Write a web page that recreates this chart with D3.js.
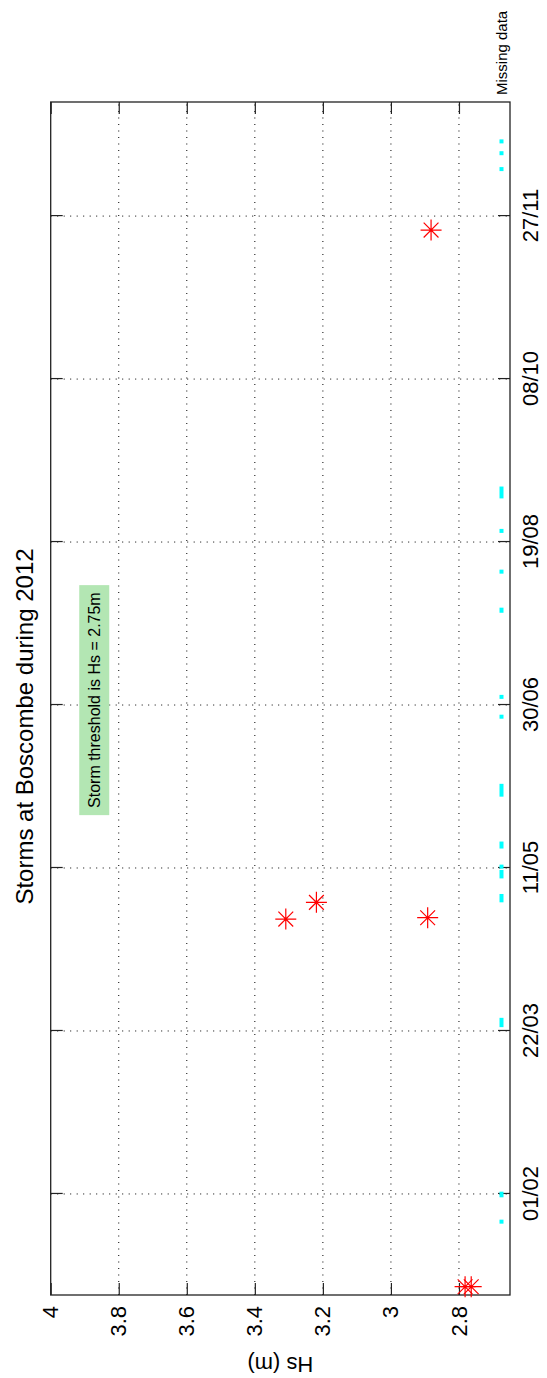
<!DOCTYPE html>
<meta charset="utf-8">
<script src="https://d3js.org/d3.v7.min.js"></script>
<style>
  body { margin: 0; background: #fff; }
  text { font-family: "Liberation Sans", Arial, sans-serif; fill: #000; }
</style>
<div class="canvas"></div>

<script>

    // ---- data ----
    const dateTicks = ["2012-02-01", "2012-03-22", "2012-05-11", "2012-06-30", "2012-08-19", "2012-10-08", "2012-11-27"]
    const hsTicks = [2.8, 3, 3.2, 3.4, 3.6, 3.8, 4]

    // storm events (Hs above 2.75 m)
    const stormDates = ["2012-01-03 13:00", "2012-01-03 13:00", "2012-04-25 08:00", "2012-04-30 11:00", "2012-04-25 18:00", "2012-11-22 17:00"]
    const stormHs = [2.782, 2.764, 3.309, 3.219, 2.892, 2.882]

    // periods of missing data (start, end)
    const missingStart = ["2012-01-23 12:00", "2012-01-31 14:00", "2012-03-23 19:00", "2012-05-01 02:00", "2012-05-08 10:00",
                          "2012-05-11 10:00", "2012-05-17 14:00", "2012-06-02 12:00", "2012-06-26 10:00", "2012-07-02 12:00",
                          "2012-07-28 22:00", "2012-08-09 22:00", "2012-08-22 10:00", "2012-09-02 00:00", "2012-12-11 10:00",
                          "2012-12-16 07:00", "2012-12-19 22:00"]
    const missingEnd   = ["2012-01-23 12:00", "2012-02-01 02:00", "2012-03-25 10:00", "2012-05-02 10:00", "2012-05-09 19:00",
                          "2012-05-11 10:00", "2012-05-18 12:00", "2012-06-05 05:00", "2012-06-26 10:00", "2012-07-02 12:00",
                          "2012-07-29 06:00", "2012-08-09 22:00", "2012-08-22 10:00", "2012-09-04 10:00", "2012-12-11 10:00",
                          "2012-12-16 07:00", "2012-12-19 22:00"]
    const missingLevel = 2.675

    const threshold = 2.75
    const noteDate = "2012-07-01 12:00"
    const noteHs = 3.872

    // ---- layout ----
    const width = 547
    const height = 1378
    // the whole figure is turned a quarter turn (dates run bottom -> top)
    const plotLeft = 50.7, plotBottom = 1295
    const graphWidth = 1193      // along the date axis
    const graphHeight = 459.3    // along the Hs axis
    const tickLen = 12

    const parse = d3.utcParse("%Y-%m-%d %H:%M")
    const parseDay = d3.utcParse("%Y-%m-%d")

    const svg = d3.select(".canvas")
                .append("svg")
                .attr("width", width)
                .attr("height", height)

    svg.append("rect").attr("width", width).attr("height", height).attr("fill", "#fff")

    const graph = svg.append("g")
                    .attr("transform", `translate(${plotLeft},${plotBottom}) rotate(-90)`)

    const x = d3.scaleUtc()
                .domain([Date.UTC(2012, 0, 1), Date.UTC(2013, 0, 1)])
                .range([0, graphWidth])

    const y = d3.scaleLinear()
                .domain([2.65, 4])
                .range([graphHeight, 0])

    const tickDates = dateTicks.map(parseDay)

    // grid
    const grid = graph.append("g")
        .attr("stroke", "#000")
        .attr("stroke-width", 1)
        .attr("stroke-dasharray", "1,5.5")
    grid.selectAll(".gx").data(tickDates).enter().append("line")
        .attr("x1", d => x(d)).attr("x2", d => x(d))
        .attr("y1", 0).attr("y2", graphHeight)
    grid.selectAll(".gy").data(hsTicks.filter(d => d < 4)).enter().append("line")
        .attr("x1", 0).attr("x2", graphWidth)
        .attr("y1", d => y(d)).attr("y2", d => y(d))

    // axes
    const xAxis = d3.axisBottom(x)
                    .tickValues(tickDates)
                    .tickFormat(d3.utcFormat("%d/%m"))
                    .tickSizeInner(-tickLen)
                    .tickSizeOuter(0)
                    .tickPadding(12)
    const yAxis = d3.axisLeft(y)
                    .tickValues(hsTicks)
                    .tickFormat(d => d)
                    .tickSizeInner(-tickLen)
                    .tickSizeOuter(0)
                    .tickPadding(11)

    const gXAxis = graph.append("g").attr("transform", `translate(0,${graphHeight})`).call(xAxis)
    const gYAxis = graph.append("g").call(yAxis)
    const gXTop = graph.append("g").call(d3.axisTop(x).tickValues(tickDates).tickFormat("").tickSizeInner(-tickLen).tickSizeOuter(0))
    const gYRight = graph.append("g").attr("transform", `translate(${graphWidth},0)`)
                    .call(d3.axisRight(y).tickValues(hsTicks).tickFormat("").tickSizeInner(-tickLen).tickSizeOuter(0))

    ;[gXAxis, gYAxis, gXTop, gYRight].forEach(g => {
        g.select(".domain").remove()
        g.selectAll("line").attr("stroke", "#222").attr("stroke-width", 1.2)
        g.selectAll("text").style("font-size", "22px").style("font-family", "Liberation Sans, Arial, sans-serif")
    })

    // frame
    graph.append("rect")
        .attr("width", graphWidth).attr("height", graphHeight)
        .attr("fill", "none").attr("stroke", "#222").attr("stroke-width", 1.3)

    // missing data
    graph.selectAll(".miss").data(missingStart).enter().append("rect")
        .attr("x", (d, i) => x(parse(d)) - 2)
        .attr("y", y(missingLevel) - 2)
        .attr("width", (d, i) => x(parse(missingEnd[i])) - x(parse(d)) + 4)
        .attr("height", 4)
        .attr("fill", "#00ffff")

    graph.append("text")
        .attr("x", graphWidth + 7)
        .attr("y", y(missingLevel))
        .attr("dy", "0.35em")
        .style("font-size", "15px")
        .text("Missing data")

    // storms
    const r = 10.5, dd = 7.4
    const star = `M0,${-r}V${r}M${-r},0H${r}M${-dd},${-dd}L${dd},${dd}M${-dd},${dd}L${dd},${-dd}`
    graph.selectAll(".storm").data(stormDates).enter().append("path")
        .attr("d", star)
        .attr("transform", (d, i) => `translate(${x(parse(d))},${y(stormHs[i])})`)
        .attr("fill", "none")
        .attr("stroke", "#ff0000")
        .attr("stroke-width", 1.2)

    // threshold note
    const note = graph.append("g")
        .attr("transform", `translate(${x(parse(noteDate))},${y(noteHs)})`)
    note.append("rect")
        .attr("x", -115).attr("y", -15)
        .attr("width", 230).attr("height", 30)
        .attr("fill", "#b3e6b3")
    note.append("text")
        .attr("text-anchor", "middle")
        .attr("dy", "0.36em")
        .style("font-size", "16px")
        .text(`Storm threshold is Hs = ${threshold}m`)

    // title and label
    graph.append("text")
        .attr("x", graphWidth / 2 - 28)
        .attr("y", -18)
        .attr("text-anchor", "middle")
        .style("font-size", "24px")
        .text("Storms at Boscombe during 2012")

    graph.append("text")
        .attr("transform", `translate(-62,${graphHeight / 2}) rotate(-90)`)
        .attr("text-anchor", "middle")
        .style("font-size", "22px")
        .text("Hs (m)")

</script>
